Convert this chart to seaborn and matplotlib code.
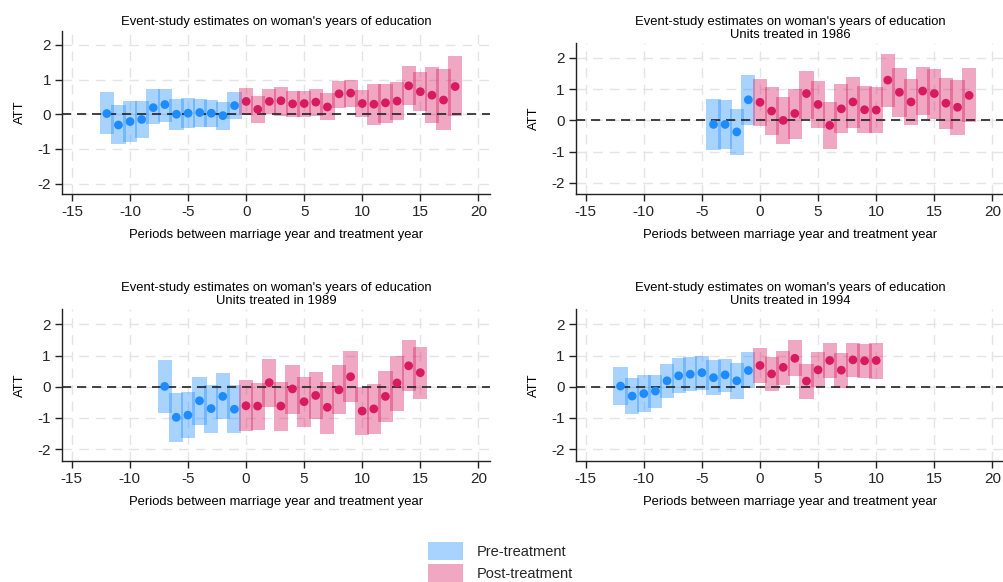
import matplotlib
matplotlib.use("Agg")
import matplotlib.pyplot as plt
from matplotlib.patches import Patch
import pandas as pd
import seaborn as sns

# ---------------- data ----------------
main_title = "Event-study estimates on woman's years of education"
subtitles = ["", "Units treated in 1986", "Units treated in 1989", "Units treated in 1994"]
x_label = "Periods between marriage year and treatment year"
y_label = "ATT"
x_ticks = [-15, -10, -5, 0, 5, 10, 15, 20]
y_ticks = [-2, -1, 0, 1, 2]
legend_labels = ["Pre-treatment", "Post-treatment"]

ev1 = [-12, -11, -10, -9, -8, -7, -6, -5, -4, -3, -2, -1, 0, 1, 2, 3, 4, 5, 6, 7,
       8, 9, 10, 11, 12, 13, 14, 15, 16, 17, 18]
est1 = [0.02, -0.31, -0.21, -0.15, 0.19, 0.28, 0.00, 0.03, 0.05, 0.03, -0.04, 0.25,
        0.37, 0.14, 0.37, 0.39, 0.30, 0.31, 0.35, 0.21, 0.59, 0.61, 0.31, 0.29, 0.33,
        0.38, 0.82, 0.65, 0.55, 0.41, 0.80]
hi1 = [0.63, 0.26, 0.37, 0.38, 0.72, 0.74, 0.43, 0.46, 0.44, 0.40, 0.36, 0.65,
       0.75, 0.53, 0.74, 0.78, 0.66, 0.68, 0.72, 0.60, 0.97, 0.99, 0.69, 0.87, 0.87,
       0.93, 1.38, 1.22, 1.36, 1.30, 1.67]
lo1 = [-0.58, -0.87, -0.81, -0.69, -0.28, -0.22, -0.46, -0.41, -0.38, -0.36, -0.44, -0.14,
       -0.02, -0.24, 0.00, -0.05, -0.09, -0.09, -0.04, -0.17, 0.19, 0.20, -0.09, -0.30, -0.24,
       -0.18, 0.26, 0.08, -0.26, -0.46, -0.04]

ev2 = [-4, -3, -2, -1, 0, 1, 2, 3, 4, 5, 6, 7, 8, 9, 10, 11, 12, 13, 14, 15, 16, 17, 18]
est2 = [-0.13, -0.13, -0.37, 0.66, 0.58, 0.30, 0.00, 0.22, 0.86, 0.51, -0.16, 0.37,
        0.59, 0.34, 0.33, 1.29, 0.90, 0.59, 0.94, 0.86, 0.55, 0.42, 0.80]
hi2 = [0.70, 0.64, 0.36, 1.44, 1.34, 1.06, 0.75, 1.00, 1.57, 1.26, 0.59, 1.17,
       1.38, 1.09, 1.06, 2.13, 1.67, 1.32, 1.70, 1.66, 1.35, 1.29, 1.67]
lo2 = [-0.94, -0.92, -1.12, -0.14, -0.19, -0.46, -0.77, -0.59, 0.05, -0.25, -0.92, -0.42,
       -0.24, -0.42, -0.40, 0.44, 0.10, -0.16, 0.17, 0.05, -0.28, -0.48, -0.06]

ev3 = [-7, -6, -5, -4, -3, -2, -1, 0, 1, 2, 3, 4, 5, 6, 7, 8, 9, 10, 11, 12, 13, 14, 15]
est3 = [0.01, -0.98, -0.91, -0.45, -0.70, -0.31, -0.72, -0.61, -0.62, 0.13, -0.62, -0.07,
        -0.48, -0.28, -0.66, -0.10, 0.32, -0.78, -0.71, -0.31, 0.12, 0.67, 0.45]
hi3 = [0.84, -0.21, -0.17, 0.31, 0.07, 0.45, 0.05, 0.21, 0.12, 0.88, 0.16, 0.70,
       0.30, 0.48, 0.16, 0.68, 1.14, -0.02, 0.10, 0.50, 0.98, 1.49, 1.26]
lo3 = [-0.83, -1.76, -1.64, -1.23, -1.48, -1.05, -1.47, -1.42, -1.39, -0.64, -1.41, -0.86,
       -1.28, -1.03, -1.50, -0.89, -0.49, -1.54, -1.51, -1.12, -0.78, -0.15, -0.40]

ev4 = [-12, -11, -10, -9, -8, -7, -6, -5, -4, -3, -2, -1, 0, 1, 2, 3, 4, 5, 6, 7, 8, 9, 10]
est4 = [0.02, -0.30, -0.22, -0.14, 0.19, 0.35, 0.40, 0.45, 0.29, 0.38, 0.19, 0.52,
        0.68, 0.41, 0.62, 0.91, 0.18, 0.54, 0.84, 0.53, 0.86, 0.83, 0.84]
hi4 = [0.63, 0.27, 0.37, 0.39, 0.73, 0.91, 0.95, 0.99, 0.85, 0.90, 0.77, 1.10,
       1.23, 0.96, 1.16, 1.49, 0.74, 1.10, 1.40, 1.09, 1.40, 1.38, 1.40]
lo4 = [-0.59, -0.87, -0.81, -0.69, -0.35, -0.20, -0.13, -0.12, -0.28, -0.16, -0.39, -0.05,
       0.11, -0.15, 0.04, 0.33, -0.38, -0.01, 0.27, -0.03, 0.31, 0.28, 0.24]

# ---------------- style ----------------
sns.set_theme(style="white")
plt.rcParams["font.family"] = ["Liberation Sans", "DejaVu Sans"]

BLUE = "#1E8CFF"
PINK = "#D81B60"
BOX_ALPHA = 0.38
W, H = 1004, 582

fig = plt.figure(figsize=(W / 100, H / 100), dpi=100)
fig.patch.set_facecolor("white")

# axes rectangles in pixel units: (left, top, right, bottom)
rects = [(62, 30.7, 490, 194), (575.7, 43.3, 1004, 194),
         (61.7, 309.3, 490, 460.7), (575.7, 309.3, 1004, 460.7)]
ylims = [(-2.30, 2.41), (-2.36, 2.47), (-2.37, 2.48), (-2.37, 2.48)]

panels = [(ev1, est1, lo1, hi1), (ev2, est2, lo2, hi2),
          (ev3, est3, lo3, hi3), (ev4, est4, lo4, hi4)]

for i, ((ev, est, lo, hi), (l, t, r, b)) in enumerate(zip(panels, rects)):
    ax = fig.add_axes([l / W, 1 - b / H, (r - l) / W, (b - t) / H])
    df = pd.DataFrame({"ev": ev, "est": est, "lo": lo, "hi": hi})
    df["phase"] = ["pre" if e < 0 else "post" for e in ev]

    ax.set_axisbelow(True)
    ax.grid(True, color="#e4e4e4", linestyle=(0, (7, 5)), linewidth=1.0)

    for ph, col in (("pre", BLUE), ("post", PINK)):
        sub = df[df["phase"] == ph]
        ax.bar(sub["ev"], sub["hi"] - sub["lo"], bottom=sub["lo"], width=1.22,
               color=col, alpha=BOX_ALPHA, linewidth=0, zorder=2)

    ax.axhline(0, color="#222222", linestyle=(0, (5.5, 3.5)), linewidth=1.2, zorder=3)

    sns.scatterplot(data=df, x="ev", y="est", hue="phase",
                    palette={"pre": BLUE, "post": PINK}, s=40, edgecolor="none",
                    linewidth=0, legend=False, ax=ax, zorder=4)

    ax.set_xlim(-15.86, 21.0)
    ax.set_ylim(*ylims[i])
    ax.set_xticks(x_ticks)
    ax.set_yticks(y_ticks)
    ax.set_xticklabels([str(v) for v in x_ticks])
    ax.set_yticklabels([str(v) for v in y_ticks])
    ax.tick_params(axis="both", which="both", direction="out", length=5, width=1,
                   color="#222222", labelsize=11, pad=3, left=True, bottom=True)
    for s in ("top", "right"):
        ax.spines[s].set_visible(False)
    for s in ("left", "bottom"):
        ax.spines[s].set_color("#222222")
        ax.spines[s].set_linewidth(1.0)

    title = main_title if not subtitles[i] else main_title + "\n" + subtitles[i]
    ax.set_title(title, fontsize=9.4, pad=4, linespacing=1.12, color="black")
    ax.set_xlabel(x_label, fontsize=9.4, labelpad=7, color="black")
    ax.set_ylabel(y_label, fontsize=9.4, labelpad=8, color="black")

handles = [Patch(facecolor=BLUE, alpha=BOX_ALPHA, linewidth=0),
           Patch(facecolor=PINK, alpha=BOX_ALPHA, linewidth=0)]
fig.legend(handles, legend_labels, loc="upper left",
           bbox_to_anchor=(428 / W, 1 - 542 / H), frameon=False,
           fontsize=10.5, handlelength=2.4, handleheight=1.5,
           handletextpad=0.95, labelspacing=0.3, borderpad=0, borderaxespad=0)

fig.savefig("out.png", dpi=100, facecolor="white")
